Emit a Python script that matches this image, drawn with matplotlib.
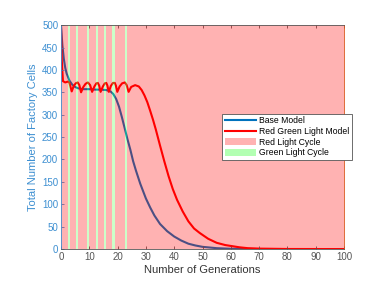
import matplotlib.pyplot as plt
from matplotlib.patches import Patch
from matplotlib.lines import Line2D

plt.rcParams['font.family'] = ['Liberation Sans', 'DejaVu Sans']

# Base model
base_x = [0, 0.5, 1, 1.5, 2, 3, 4, 5, 6, 8, 10, 12, 14, 16, 17.5, 18.5, 19.5, 20.5,
          21.5, 22.5, 23.5, 24.5, 25.5, 26.5, 28, 30, 31.5, 33, 35, 37.5, 40, 42.5,
          45, 47.5, 50, 55, 60, 70, 100]
base_y = [500, 455, 425, 405, 392, 376, 367, 362, 359, 357, 357, 356, 356, 355, 352,
          346, 335, 318, 295, 270, 245, 222, 196, 175, 146, 113, 93, 75, 56, 40, 28,
          19, 12, 8, 5, 2, 0.7, 0.1, 0]

# Red green light model
rg_x = [0, 0.3, 0.7, 1.5, 2.5, 3.0, 3.8, 4.5, 5.2, 5.9, 6.5, 7.1, 7.9, 8.7, 9.5, 10.3,
        11.0, 11.8, 12.5, 13.0, 13.5, 14.0, 14.8, 15.5, 16.0, 16.4, 16.9, 17.6, 18.4,
        19.0, 19.4, 19.9, 20.7, 21.6, 22.6, 23.2, 23.9, 24.8, 26.2, 27.5, 28.5, 29.5,
        30.5, 31.5, 32.5, 33.5, 35, 36.5, 38, 39.5, 41, 43, 45, 47, 49, 52, 55, 58,
        60, 63, 66, 70, 80, 100]
rg_y = [500, 420, 375, 372, 374, 371, 352, 364, 370, 372, 366, 350, 362, 369, 372,
        366, 351, 363, 370, 371, 365, 351, 363, 370, 371, 365, 351, 364, 371, 371,
        365, 351, 363, 370, 372, 366, 351, 362, 366, 363, 355, 343, 328, 309, 289,
        267, 231, 196, 163, 134, 110, 84, 62, 46, 36, 23, 14, 9, 7, 4, 2, 1, 0.2, 0]

# Green light cycle intervals (start, width)
green_start = [2.4, 5.4, 9.3, 12.3, 15.3, 18.2, 22.5]
green_width = 0.75

blue = '#0072BD'
axis_blue = '#3D8FD1'
grey = '#555555'
green = (0.35, 1, 0.3)

fig = plt.figure(figsize=(3.74, 2.92), dpi=100)
ax = fig.add_axes([0.163, 0.147, 0.757, 0.767])

ax.plot(base_x, base_y, color=blue, lw=1.5, zorder=1)
ax.plot(rg_x, rg_y, color='red', lw=1.5, zorder=1)

# light cycles drawn on top, semi-transparent
edges = [0]
for g in green_start:
    edges += [g, g + green_width]
edges.append(100)
for i in range(0, len(edges), 2):
    ax.axvspan(edges[i], edges[i + 1], color='red', alpha=0.3, lw=0, zorder=2)
for g in green_start:
    ax.axvspan(g, g + green_width, color=green, alpha=0.3, lw=0, zorder=2)

ax.set_xlim(0, 100)
ax.set_ylim(0, 500)
ax.set_xticks(range(0, 101, 10))
ax.set_yticks(range(0, 501, 50))
ax.tick_params(axis='x', direction='in', length=2.5, width=0.6, colors=grey,
               labelsize=7, top=True, pad=2)
ax.tick_params(axis='y', direction='in', length=2.5, width=0.6, colors=axis_blue,
               labelsize=7, pad=2)
ax.spines['left'].set_color(axis_blue)
ax.spines['right'].set_color('#D95319')
ax.spines['top'].set_color(grey)
ax.spines['bottom'].set_color(grey)
for s in ax.spines.values():
    s.set_linewidth(0.6)

ax.set_xlabel('Number of Generations', fontsize=8, color='#333333', labelpad=2)
ax.set_ylabel('Total Number of Factory Cells', fontsize=8, color=axis_blue, labelpad=3)

handles = [Line2D([], [], color=blue, lw=1.5),
           Line2D([], [], color='red', lw=1.5),
           Patch(facecolor=(1, 0, 0), alpha=0.3),
           Patch(facecolor=(0, 1, 0), alpha=0.3)]
labels = ['Base Model', 'Red Green Light Model', 'Red Light Cycle', 'Green Light Cycle']
leg = ax.legend(handles, labels, loc='upper left', bbox_to_anchor=(0.57, 0.605),
                fontsize=6.2, frameon=True, fancybox=False, edgecolor='#555555',
                framealpha=1, handlelength=3.6, handleheight=0.9, borderpad=0.3,
                labelspacing=0.2, handletextpad=0.4, borderaxespad=0)
leg.get_frame().set_linewidth(0.6)

fig.savefig('out.png', dpi=100)
